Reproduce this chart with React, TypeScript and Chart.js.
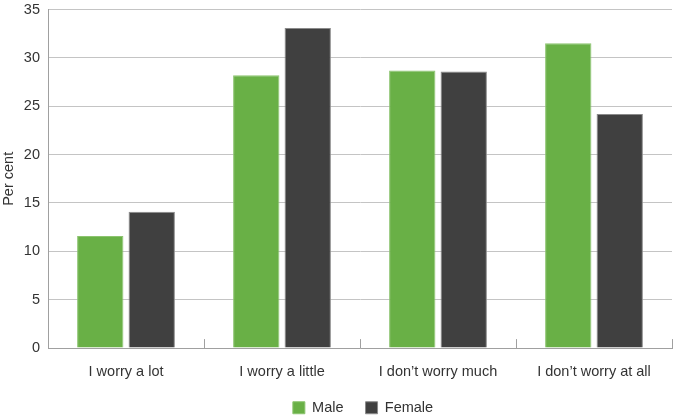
import React, { useEffect, useRef } from "react";
import { Chart, registerables } from "chart.js";

Chart.register(...registerables);

const categories = ["I worry a lot", "I worry a little", "I don\u2019t worry much", "I don\u2019t worry at all"];
const maleValues = [11.6, 28.2, 28.7, 31.5];
const femaleValues = [14.1, 33.1, 28.6, 24.2];
const yTicks = [0, 5, 10, 15, 20, 25, 30, 35];

const FONT = "Liberation Sans, Arial";
const FS = 14.5;

const upTicks = {
  id: "upTicks",
  afterDatasetsDraw(chart: any) {
    const x = chart.scales.x;
    const area = chart.chartArea;
    const ctx = chart.ctx;
    ctx.save();
    ctx.strokeStyle = "#a0a0a0";
    ctx.lineWidth = 1;
    for (let i = 1; i <= categories.length; i++) {
      const px = Math.round(x.getPixelForValue(i - 0.5)) + 0.5;
      ctx.beginPath();
      ctx.moveTo(px, area.bottom);
      ctx.lineTo(px, area.bottom - 9);
      ctx.stroke();
    }
    ctx.restore();
  },
};

const legendShift = {
  id: "legendShift",
  afterLayout(chart: any) {
    const lg = chart.legend;
    if (!lg) return;
    lg.top -= 9;
    lg.bottom -= 9;
    lg.left += 27;
    lg.right += 27;
  },
};

export default function App() {
  const ref = useRef<HTMLCanvasElement | null>(null);
  useEffect(() => {
    document.body.style.margin = "0";
    const chart = new Chart(ref.current as HTMLCanvasElement, {
      type: "bar",
      data: {
        labels: categories,
        datasets: [
          {
            label: "Male",
            data: maleValues,
            backgroundColor: "#69b046",
            borderColor: "#8cc46f",
            borderWidth: 1,
            categoryPercentage: 0.66,
            barPercentage: 0.9,
          },
          {
            label: "Female",
            data: femaleValues,
            backgroundColor: "#404040",
            borderColor: "#8a8a8a",
            borderWidth: 1,
            categoryPercentage: 0.66,
            barPercentage: 0.9,
          },
        ],
      },
      options: {
        animation: false,
        responsive: false,
        maintainAspectRatio: false,
        layout: { padding: { top: 9.5, right: 3, left: 0, bottom: -16 } },
        plugins: {
          tooltip: { enabled: false },
          legend: {
            position: "bottom",
            labels: {
              boxWidth: 12,
              boxHeight: 12,
              padding: 22,
              color: "#333333",
              font: { family: FONT, size: FS },
            },
          },
        },
        scales: {
          x: {
            grid: { display: false },
            border: { color: "#a0a0a0" },
            ticks: {
              color: "#333333",
              padding: 7,
              font: { family: FONT, size: FS },
            },
          },
          y: {
            min: 0,
            max: 35,
            afterBuildTicks: (s: any) => {
              s.ticks = yTicks.map((v) => ({ value: v }));
            },
            afterFit: (s: any) => {
              s.width = 48;
              s.paddingTop = 0;
              s.paddingBottom = 0;
            },
            grid: { color: "#c4c4c4", drawTicks: false },
            border: { color: "#a0a0a0" },
            ticks: {
              color: "#333333",
              padding: 8,
              font: { family: FONT, size: FS },
            },
            title: {
              display: true,
              text: "Per cent",
              color: "#333333",
              padding: 0,
              font: { family: FONT, size: FS },
            },
          },
        },
      },
      plugins: [upTicks, legendShift],
    });
    return () => chart.destroy();
  }, []);
  return <canvas ref={ref} width={675} height={418} style={{ display: "block" }} />;
}
